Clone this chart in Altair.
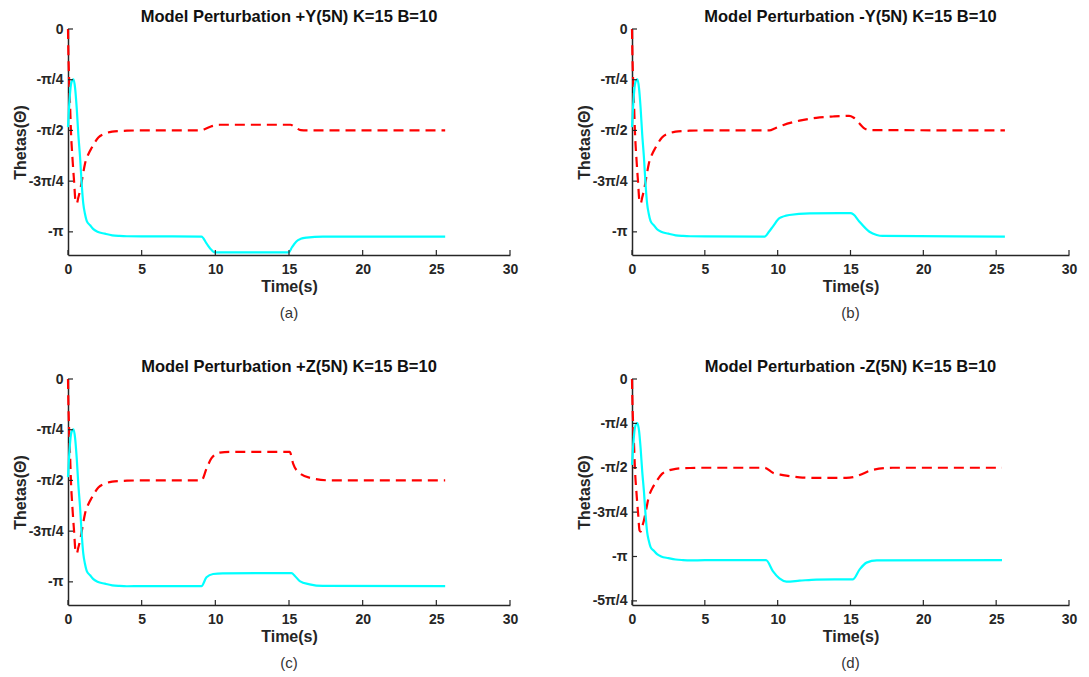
import math
import altair as alt
import pandas as pd

PI = math.pi
FONT = "Liberation Sans"
INK = "#262626"

# ---- start-up transient, common to all four runs (0-4 s) ----
START_T_RED = [0.0, 0.02, 0.07, 0.14, 0.2, 0.3, 0.41, 0.52, 0.6, 0.7, 0.82, 0.98,
               1.15, 1.38, 1.61, 2.06, 2.5, 3.0, 3.5, 4.0]
START_RED = [0.0, -0.3, -0.75, -1.17, -1.58, -1.99, -2.35, -2.68, -2.7, -2.61, -2.5, -2.3,
             -2.09, -1.94, -1.84, -1.68, -1.62, -1.59, -1.58, -1.575]
START_T_CYAN = [0.0, 0.05, 0.12, 0.2, 0.3, 0.37, 0.48, 0.59, 0.7, 0.82, 0.93, 1.04,
                1.15, 1.27, 1.5, 1.72, 2.0, 2.5, 3.0, 3.5, 4.0]
START_CYAN = [-1.52, -1.3, -1.05, -0.86, -0.79, -0.78, -0.91, -1.22, -1.63, -1.99, -2.4, -2.71,
              -2.86, -2.97, -3.04, -3.1, -3.14, -3.17, -3.195, -3.205, -3.21]

# ---- perturbation phase for each run (after 4 s) ----
A_T_RED = [5.0, 9.0, 9.3, 9.7, 10.3, 15.1, 15.4, 15.8, 16.2, 25.6]
A_RED = [-1.571, -1.571, -1.55, -1.51, -1.483, -1.483, -1.52, -1.565, -1.571, -1.571]
A_T_CYAN = [5.0, 9.06, 9.4, 9.73, 9.96, 14.98, 15.2, 15.5, 15.8, 16.2, 17.3, 25.6]
A_CYAN = [-3.212, -3.214, -3.32, -3.42, -3.46, -3.46, -3.38, -3.29, -3.25, -3.23, -3.214, -3.214]

B_T_RED = [5.0, 9.44, 9.8, 10.36, 11.5, 12.65, 13.8, 14.9, 15.2, 15.6, 15.9, 16.3, 25.6]
B_RED = [-1.571, -1.571, -1.54, -1.49, -1.42, -1.375, -1.355, -1.345, -1.37, -1.46, -1.53,
         -1.565, -1.571]
B_T_CYAN = [5.0, 9.1, 9.4, 9.67, 10.12, 10.8, 12.2, 15.0, 15.2, 15.6, 16.3, 16.8, 17.2, 25.6]
B_CYAN = [-3.212, -3.214, -3.14, -3.06, -2.93, -2.88, -2.855, -2.85, -2.87, -2.98, -3.14, -3.19,
          -3.205, -3.214]

C_T_RED = [5.0, 9.06, 9.4, 9.73, 10.3, 11.0, 15.05, 15.28, 15.73, 16.6, 17.9, 25.6]
C_RED = [-1.571, -1.571, -1.39, -1.23, -1.14, -1.128, -1.128, -1.31, -1.46, -1.54, -1.571, -1.571]
C_T_CYAN = [5.0, 9.06, 9.4, 9.85, 10.5, 15.17, 15.4, 15.73, 16.4, 17.3, 25.6]
C_CYAN = [-3.207, -3.207, -3.07, -3.02, -3.01, -3.005, -3.05, -3.13, -3.18, -3.205, -3.207]

D_T_RED = [5.0, 9.1, 9.67, 10.36, 11.5, 12.65, 14.7, 15.3, 15.63, 16.5, 17.9, 25.4]
D_RED = [-1.571, -1.571, -1.66, -1.70, -1.74, -1.75, -1.75, -1.73, -1.70, -1.61, -1.571, -1.571]
D_T_CYAN = [5.0, 9.2, 9.67, 10.12, 10.6, 11.5, 12.65, 15.17, 15.63, 16.1, 16.8, 25.4]
D_CYAN = [-3.207, -3.207, -3.40, -3.53, -3.585, -3.57, -3.55, -3.545, -3.37, -3.25, -3.21, -3.207]

TITLES = [
    "Model Perturbation +Y(5N) K=15 B=10",
    "Model Perturbation -Y(5N) K=15 B=10",
    "Model Perturbation +Z(5N) K=15 B=10",
    "Model Perturbation -Z(5N) K=15 B=10",
]
CAPTIONS = ["(a)", "(b)", "(c)", "(d)"]

X_TICKS = [0, 5, 10, 15, 20, 25, 30]
Y_TICK_LABELS = ["0", "-π/4", "-π/2", "-3π/4", "-π", "-5π/4"]

H = 226


def label_expr(n):
    expr = "''"
    for k in reversed(range(n)):
        expr = f"round(datum.value*4/PI) == {-k} ? '{Y_TICK_LABELS[k]}' : ({expr})"
    return expr


def panel(title, caption, t_red, red, t_cyan, cyan, ymin, n_yticks, width):
    red_df = pd.DataFrame({"t": START_T_RED + t_red, "theta": START_RED + red})
    cyan_df = pd.DataFrame({"t": START_T_CYAN + t_cyan, "theta": START_CYAN + cyan})
    ytick_vals = [-k * PI / 4 for k in range(n_yticks)]

    xs = alt.Scale(domain=[0, 30], nice=False, zero=False)
    ys = alt.Scale(domain=[ymin, 0], nice=False, zero=False)

    x_axis = alt.Axis(values=X_TICKS, title="Time(s)", labelPadding=7, titlePadding=2,
                      labelFlush=False)
    y_axis = alt.Axis(values=ytick_vals, title="Thetas(Θ)", labelExpr=label_expr(n_yticks),
                      labelPadding=5, titlePadding=0, labelFlush=False)

    red_line = alt.Chart(red_df).mark_line(
        color="#FF0000", strokeWidth=2.2, strokeDash=[10, 6], interpolate="monotone"
    ).encode(
        x=alt.X("t:Q", scale=xs, axis=x_axis),
        y=alt.Y("theta:Q", scale=ys, axis=y_axis),
    )
    cyan_line = alt.Chart(cyan_df).mark_line(
        color="#00FFFF", strokeWidth=2.2, interpolate="monotone"
    ).encode(
        x=alt.X("t:Q", scale=xs),
        y=alt.Y("theta:Q", scale=ys),
    )

    # inward-pointing tick marks
    xt = alt.Chart(pd.DataFrame({"v": X_TICKS})).mark_rule(color=INK, strokeWidth=1.2).encode(
        x=alt.X("v:Q", scale=xs), y=alt.value(H), y2=alt.value(H - 5)
    )
    yt = alt.Chart(pd.DataFrame({"v": ytick_vals})).mark_rule(color=INK, strokeWidth=1.2).encode(
        y=alt.Y("v:Q", scale=ys), x=alt.value(0), x2=alt.value(5)
    )

    cap = alt.Chart(pd.DataFrame({"c": [caption]})).mark_text(
        font=FONT, fontSize=15, color="#333333"
    ).encode(x=alt.value(width / 2), y=alt.value(H + 58), text="c:N")

    return alt.layer(red_line, cyan_line, xt, yt, cap).properties(
        width=width,
        height=H,
        title=alt.TitleParams(title, fontSize=16.5, fontWeight="bold", font=FONT,
                              color="#111111", anchor="middle", offset=-3.5),
    )


pa = panel(TITLES[0], CAPTIONS[0], A_T_RED, A_RED, A_T_CYAN, A_CYAN, -3.5, 5, 442)
pb = panel(TITLES[1], CAPTIONS[1], B_T_RED, B_RED, B_T_CYAN, B_CYAN, -3.5, 5, 437)
pc = panel(TITLES[2], CAPTIONS[2], C_T_RED, C_RED, C_T_CYAN, C_CYAN, -3.5, 5, 442)
pd_ = panel(TITLES[3], CAPTIONS[3], D_T_RED, D_RED, D_T_CYAN, D_CYAN, -4.0, 6, 437)

chart = alt.concat(
    pa, pb, pc, pd_, columns=2, spacing={"row": 124, "column": 122}, bounds="flush"
).properties(
    padding={"left": 12, "top": 9, "right": 5, "bottom": 5},
    background="white",
).configure_view(stroke=None).configure_axis(
    grid=False,
    ticks=False,
    domainColor=INK,
    domainWidth=1.5,
    labelFont=FONT,
    labelFontSize=14,
    labelFontWeight="bold",
    labelColor=INK,
    titleFont=FONT,
    titleFontSize=16,
    titleFontWeight="bold",
    titleColor=INK,
)

chart.save("out.html", embed_options={"renderer": "svg", "actions": False})
